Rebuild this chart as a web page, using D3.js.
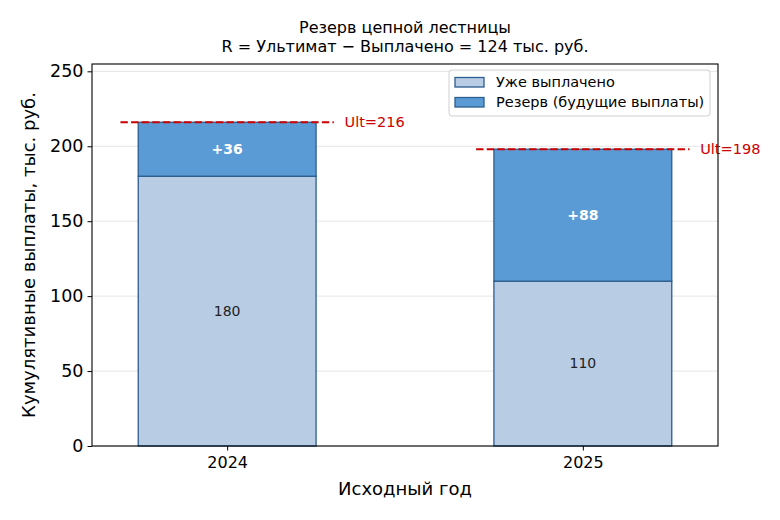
<!DOCTYPE html>
<html>
<head>
<meta charset="utf-8">
<script src="https://cdn.jsdelivr.net/npm/d3@7"></script>
<style>
  body { margin: 0; background: #fff; }
  svg text { font-family: "DejaVu Sans", sans-serif; }
</style>
</head>
<body>
<svg id="chart" width="780" height="520"></svg>
<script>
const years = ["2024", "2025"];
const paid = [180, 110];
const reserve = [36, 88];
const ultimate = [216, 198];
const yTicks = [0, 50, 100, 150, 200, 250];
const legendLabels = ["Уже выплачено", "Резерв (будущие выплаты)"];

const PAID_COLOR = "#b8cce4";
const RESERVE_COLOR = "#5b9bd5";
const EDGE = "#2c5d8f";
const RED = "#cc0000";

const margin = { left: 92, right: 62, top: 64, bottom: 74 };
const W = 780, H = 520;

const svg = d3.select("#chart");

const x = d3.scaleLinear().domain([-0.38, 1.38]).range([margin.left, W - margin.right]);
const y = d3.scaleLinear().domain([0, 216 * 1.18]).range([H - margin.bottom, margin.top]);
const halfBar = 0.25;

// grid
svg.append("g").selectAll("line")
  .data(yTicks)
  .join("line")
  .attr("x1", x.range()[0]).attr("x2", x.range()[1])
  .attr("y1", d => y(d)).attr("y2", d => y(d))
  .attr("stroke", "#e5e5e5").attr("stroke-width", 1);

const total = years.map((yr, i) => ({ yr, i, paid: paid[i], reserve: reserve[i], ult: ultimate[i] }));

// paid bars
svg.append("g").selectAll("rect")
  .data(total)
  .join("rect")
  .attr("x", d => x(d.i - halfBar))
  .attr("width", d => x(d.i + halfBar) - x(d.i - halfBar))
  .attr("y", d => y(d.paid))
  .attr("height", d => y(0) - y(d.paid))
  .attr("fill", PAID_COLOR).attr("stroke", EDGE).attr("stroke-width", 1.3);

// reserve bars
svg.append("g").selectAll("rect")
  .data(total)
  .join("rect")
  .attr("x", d => x(d.i - halfBar))
  .attr("width", d => x(d.i + halfBar) - x(d.i - halfBar))
  .attr("y", d => y(d.paid + d.reserve))
  .attr("height", d => y(d.paid) - y(d.paid + d.reserve))
  .attr("fill", RESERVE_COLOR).attr("stroke", EDGE).attr("stroke-width", 1.3);

// labels in bars
svg.append("g").selectAll("text")
  .data(total)
  .join("text")
  .attr("x", d => x(d.i))
  .attr("y", d => y(d.paid / 2))
  .attr("dy", "0.35em")
  .attr("text-anchor", "middle")
  .attr("font-size", 14)
  .attr("fill", "#222")
  .text(d => d.paid);

svg.append("g").selectAll("text")
  .data(total)
  .join("text")
  .attr("x", d => x(d.i))
  .attr("y", d => y(d.paid + d.reserve / 2))
  .attr("dy", "0.35em")
  .attr("text-anchor", "middle")
  .attr("font-size", 14)
  .attr("font-weight", "bold")
  .attr("fill", "#fff")
  .text(d => "+" + d.reserve);

// ultimate lines
svg.append("g").selectAll("line")
  .data(total)
  .join("line")
  .attr("x1", d => x(d.i - 0.3)).attr("x2", d => x(d.i + 0.3))
  .attr("y1", d => y(d.ult)).attr("y2", d => y(d.ult))
  .attr("stroke", RED).attr("stroke-width", 2)
  .attr("stroke-dasharray", "7.4,3.2");

svg.append("g").selectAll("text")
  .data(total)
  .join("text")
  .attr("x", d => x(d.i + 0.33))
  .attr("y", d => y(d.ult))
  .attr("dy", "0.35em")
  .attr("font-size", 14.5)
  .attr("fill", RED)
  .text(d => "Ult=" + d.ult);

// axes
const yAxis = svg.append("g")
  .attr("transform", `translate(${margin.left},0)`)
  .call(d3.axisLeft(y).tickValues(yTicks).tickSize(4.5).tickPadding(4));
yAxis.select(".domain").remove();
yAxis.selectAll("text").attr("font-size", 17.5).attr("font-family", "DejaVu Sans").attr("fill", "#000");

const xAxis = svg.append("g")
  .attr("transform", `translate(0,${H - margin.bottom})`)
  .call(d3.axisBottom(x).tickValues([0, 1]).tickFormat(i => years[i]).tickSize(4.5).tickPadding(6));
xAxis.select(".domain").remove();
xAxis.selectAll("text").attr("font-size", 16).attr("font-family", "DejaVu Sans").attr("fill", "#000");

// frame
svg.append("rect")
  .attr("x", margin.left).attr("y", margin.top)
  .attr("width", W - margin.left - margin.right)
  .attr("height", H - margin.top - margin.bottom)
  .attr("fill", "none").attr("stroke", "#000").attr("stroke-width", 1.1);

// titles
const midX = (margin.left + W - margin.right) / 2;
svg.append("text").attr("x", midX).attr("y", 33).attr("text-anchor", "middle")
  .attr("font-size", 16).text("Резерв цепной лестницы");
svg.append("text").attr("x", midX).attr("y", 52).attr("text-anchor", "middle")
  .attr("font-size", 16).text("R = Ультимат − Выплачено = 124 тыс. руб.");

svg.append("text").attr("x", midX).attr("y", 495).attr("text-anchor", "middle")
  .attr("font-size", 18).text("Исходный год");

svg.append("text")
  .attr("transform", `translate(35,${(margin.top + H - margin.bottom) / 2}) rotate(-90)`)
  .attr("text-anchor", "middle")
  .attr("font-size", 18)
  .text("Кумулятивные выплаты, тыс. руб.");

// legend
const lg = svg.append("g").attr("transform", "translate(449,70)");
lg.append("rect").attr("width", 261).attr("height", 46).attr("rx", 3)
  .attr("fill", "#fff").attr("fill-opacity", 0.8).attr("stroke", "#d0d0d0");
const legendColors = [PAID_COLOR, RESERVE_COLOR];
legendLabels.forEach((lab, i) => {
  const row = lg.append("g").attr("transform", `translate(0,${12 + i * 20})`);
  row.append("rect").attr("x", 6).attr("y", -4.5).attr("width", 29).attr("height", 9.5)
    .attr("fill", legendColors[i]).attr("stroke", EDGE).attr("stroke-width", 1.3);
  row.append("text").attr("x", 47).attr("dy", "0.35em").attr("font-size", 14.5).text(lab);
});
</script>
</body>
</html>
